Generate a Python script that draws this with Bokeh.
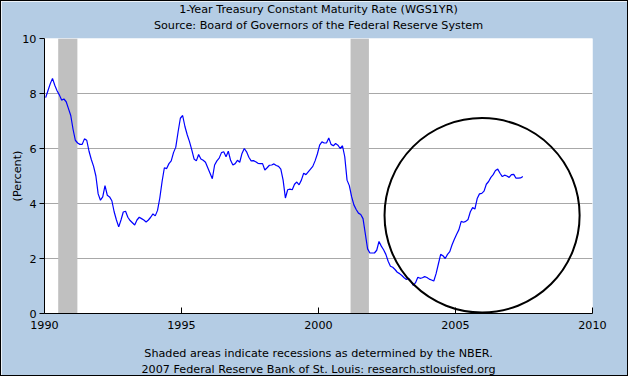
from bokeh.plotting import figure
from bokeh.models import Range1d, FixedTicker, Title
from bokeh.embed import file_html
from bokeh.resources import INLINE

# ---- data -------------------------------------------------------------
start_year = 1990
rate_pct = [
    # 1990
    7.85, 8.10, 8.35, 8.55, 8.30, 8.10, 7.95, 7.76, 7.80, 7.70, 7.45, 7.20,
    # 1991
    6.70, 6.30, 6.20, 6.15, 6.15, 6.35, 6.30, 5.90, 5.60, 5.35, 5.00, 4.35,
    # 1992
    4.12, 4.24, 4.65, 4.30, 4.24, 4.10, 3.70, 3.40, 3.15, 3.40, 3.69, 3.72,
    # 1993
    3.50, 3.38, 3.30, 3.22, 3.40, 3.50, 3.45, 3.40, 3.33, 3.40, 3.50, 3.62,
    # 1994
    3.55, 3.75, 4.20, 4.80, 5.30, 5.27, 5.45, 5.55, 5.85, 6.05, 6.60, 7.10,
    # 1995
    7.20, 6.80, 6.50, 6.25, 5.95, 5.62, 5.55, 5.78, 5.62, 5.57, 5.50, 5.30,
    # 1996
    5.10, 4.90, 5.40, 5.55, 5.65, 5.85, 5.88, 5.70, 5.90, 5.57, 5.40, 5.45,
    # 1997
    5.57, 5.50, 5.82, 6.00, 5.88, 5.68, 5.55, 5.56, 5.52, 5.46, 5.45, 5.45,
    # 1998
    5.22, 5.30, 5.39, 5.40, 5.44, 5.38, 5.35, 5.25, 4.85, 4.20, 4.50, 4.52,
    # 1999
    4.50, 4.70, 4.78, 4.68, 4.85, 5.10, 5.05, 5.15, 5.25, 5.35, 5.55, 5.80,
    # 2000
    6.12, 6.24, 6.20, 6.20, 6.38, 6.15, 6.10, 6.18, 6.12, 6.00, 6.10, 5.70,
    # 2001
    4.85, 4.65, 4.25, 3.95, 3.78, 3.65, 3.60, 3.45, 2.90, 2.35, 2.20, 2.20,
    # 2002
    2.20, 2.30, 2.62, 2.45, 2.32, 2.15, 1.90, 1.72, 1.68, 1.60, 1.50, 1.45,
    # 2003
    1.38, 1.30, 1.24, 1.28, 1.18, 1.02, 1.12, 1.32, 1.28, 1.30, 1.34, 1.31,
    # 2004
    1.25, 1.22, 1.18, 1.45, 1.80, 2.15, 2.10, 2.00, 2.15, 2.25, 2.50, 2.70,
    # 2005
    2.88, 3.05, 3.35, 3.32, 3.35, 3.42, 3.70, 3.85, 3.80, 4.18, 4.35, 4.37,
    # 2006
    4.45, 4.70, 4.80, 4.95, 5.05, 5.20, 5.25, 5.10, 4.98, 5.03, 5.00, 4.95,
    # 2007
    5.05, 5.06, 4.92, 4.92, 4.93, 4.98,
]
dates = [start_year + (i + 0.5) / 12.0 for i in range(len(rate_pct))]

recession_start = [1990.50, 2001.17]
recession_end = [1991.20, 2001.84]

x_ticks = [1990, 1995, 2000, 2005, 2010]
y_ticks = [0, 2, 4, 6, 8, 10]

# hand-drawn circle annotation (center / size in data units)
circle_x = [2005.97]
circle_y = [3.57]
circle_w = 7.12
circle_h = 7.07

title_main = "1-Year Treasury Constant Maturity Rate (WGS1YR)"
title_sub = "Source: Board of Governors of the Federal Reserve System"
foot_1 = "Shaded areas indicate recessions as determined by the NBER."
foot_2 = "2007 Federal Reserve Bank of St. Louis: research.stlouisfed.org"

# ---- figure -----------------------------------------------------------
FONT = "DejaVu Sans"
FS = "11.2px"
BG = "#B4CCE4"

p = figure(width=628, height=376, output_backend="svg", toolbar_location=None,
           x_range=Range1d(1990, 2010), y_range=Range1d(0, 10),
           title_location=None,
           min_border_left=43, min_border_right=37,
           min_border_top=37, min_border_bottom=64)
p.styles = {"border": "1px solid black"}
p.border_fill_color = BG
p.background_fill_color = "white"
p.outline_line_color = None


def make_title(txt, standoff):
    return Title(text=txt, align="center", vertical_align="top",
                 text_font=FONT, text_font_size=FS,
                 text_font_style="normal", text_color="black",
                 standoff=standoff)


# titles (first added = nearest to the frame)
p.add_layout(make_title(title_sub, 10), "above")
p.add_layout(make_title(title_main, -8), "above")

# recession shading
p.quad(left=recession_start, right=recession_end, bottom=0, top=10,
       fill_color="#C0C0C0", line_color=None)

# series
p.line(dates, rate_pct, line_color="#0000FF", line_width=1.2)

# circle annotation
p.ellipse(x=circle_x, y=circle_y, width=circle_w, height=circle_h,
          fill_color=None, line_color="black", line_width=2)

# axes
p.xaxis.ticker = FixedTicker(ticks=x_ticks)
p.yaxis.ticker = FixedTicker(ticks=y_ticks)
p.xaxis.major_label_overrides = {t: str(t) for t in x_ticks}
for ax in (p.xaxis, p.yaxis):
    ax.axis_line_color = "black"
    ax.major_tick_line_color = "black"
    ax.minor_tick_line_color = None
    ax.major_label_text_font = FONT
    ax.major_label_text_font_size = FS
    ax.major_label_text_color = "black"
    ax.axis_label_text_font = FONT
    ax.axis_label_text_font_size = FS
    ax.axis_label_text_font_style = "normal"
    ax.axis_label_text_color = "black"
p.xaxis.major_tick_in = 6
p.xaxis.major_tick_out = 0
p.xaxis.major_label_standoff = 7
p.yaxis.major_tick_in = 0
p.yaxis.major_tick_out = 5
p.yaxis.major_label_standoff = 3
p.yaxis.axis_label = "(Percent)"
p.yaxis.axis_label_standoff = -5

# first footnote line sits under the x axis as its label
p.xaxis.axis_label = foot_1
p.xaxis.axis_label_standoff = 15

p.xgrid.grid_line_color = None
p.ygrid.grid_line_color = "#A8A8A8"
p.ygrid.grid_line_width = 1

# second footnote line
p.add_layout(make_title(foot_2, 0), "below")

open("out.html", "w").write(file_html(p, INLINE))
